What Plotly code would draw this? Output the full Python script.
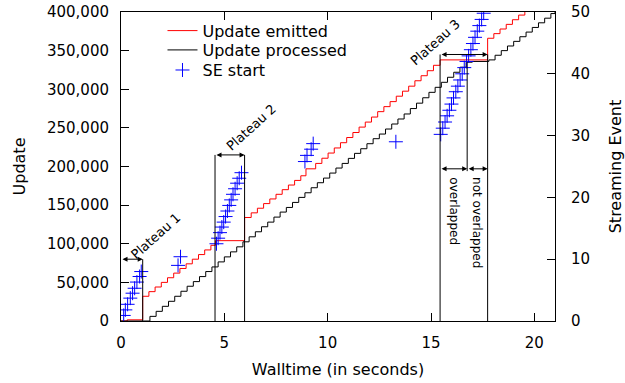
import plotly.graph_objects as go

# ---- data ----
emit_t = [0, 0.3, 1.05, 1.35, 1.65, 1.95, 2.25, 2.55, 2.85, 3.15, 3.45, 3.75, 4.05, 4.35, 4.57,
          5.98, 6.3, 6.6, 6.9, 7.2, 7.5, 7.8, 8.1, 8.4, 8.7, 8.95,
          9.42, 9.72, 10.02, 10.32, 10.62, 10.92, 11.22, 11.52, 11.82, 12.12, 12.42, 12.72,
          13.02, 13.32, 13.62, 13.92, 14.22, 14.52, 14.82, 15.12, 15.44,
          17.74, 18.04, 18.34, 18.64, 18.94, 19.24, 19.54]
emit_v = [0, 1500, 32000, 38000, 44000, 50000, 56000, 62000, 68000, 74000, 80000, 86000, 92000, 98000, 104000,
          134000, 140000, 146000, 152000, 158000, 164000, 170000, 176000, 182000, 188000, 197000,
          204000, 210700, 217400, 224000, 230800, 237500, 244000, 251000, 257500, 264000, 271000, 277500,
          284000, 291000, 297500, 304000, 311000, 317500, 324000, 331000, 338000,
          366000, 372000, 378000, 384000, 390000, 396000, 402000]

proc_t = [0, 1.1, 1.4, 1.7, 2.0, 2.3, 2.6, 2.9, 3.2, 3.5, 3.8, 4.1, 4.4, 4.7, 5.0, 5.3, 5.6, 5.9,
          6.2, 6.5, 6.8, 7.1, 7.4, 7.7, 8.0, 8.3, 8.6, 8.9, 9.2, 9.5, 9.8, 10.1, 10.4, 10.7, 11.0,
          11.3, 11.6, 11.9, 12.2, 12.5, 12.8, 13.1, 13.4, 13.7, 14.0, 14.3, 14.6, 14.9, 15.2, 15.5,
          15.8, 16.1, 16.4, 16.7, 17.0, 17.8, 18.1, 18.4, 18.7, 19.0, 19.3, 19.6, 19.9, 20.2, 20.5, 20.8, 21.0]
proc_v = [0, 0, 6000, 12500, 19000, 25500, 32000, 38500, 45000, 51000, 57500, 64000, 70000, 76500, 83000,
          89500, 96000, 102500, 109000, 115500, 122000, 128000, 134500, 141000, 147000, 153500, 160000,
          166000, 172500, 179000, 185000, 191500, 198000, 204000, 210500, 217000, 223000, 229500, 236000,
          242000, 248500, 255000, 261500, 268000, 275000, 282000, 289000, 296000, 302500, 309000, 315500,
          322000, 328500, 335000, 336000, 338000, 344000, 350000, 356000, 362000, 368000, 374000, 380000,
          386000, 392000, 398000, 400000]

se_t = [0.13, 0.21, 0.32, 0.45, 0.56, 0.66, 0.77, 0.90, 0.98,
        2.76, 2.88,
        4.62, 4.70, 4.79, 4.88, 4.97, 5.06, 5.15, 5.24, 5.33, 5.42, 5.52, 5.62, 5.72, 5.83,
        8.9, 9.0, 9.2, 9.3,
        13.3,
        15.47, 15.57, 15.68, 15.78, 15.89, 15.99, 16.09, 16.20, 16.30, 16.41, 16.51, 16.61,
        16.72, 16.82, 16.93, 17.03, 17.13, 17.24, 17.34, 17.45, 17.55]
se_v = [0.9, 1.8, 2.7, 3.7, 4.5, 5.3, 6.3, 7.2, 8.0,
        9.0, 10.4,
        12.5, 13.4, 14.3, 15.2, 16.0, 16.9, 17.8, 18.7, 19.6, 20.5, 21.4, 22.3, 23.1, 24.0,
        25.8, 26.8, 27.8, 28.7,
        29.0,
        30.2, 31.2, 32.2, 33.2, 34.1, 35.1, 36.1, 37.1, 38.0, 39.0, 40.0, 41.0,
        42.0, 42.9, 43.9, 44.9, 45.9, 46.9, 47.8, 48.8, 49.8]

# plateau annotations: start, end, bracket height, label
plateau_start = [0.0, 4.55, 15.44]
plateau_end = [1.05, 5.98, 17.74]
plateau_top = [80000, 215000, 345000]
plateau_label = ["Plateau 1", "Plateau 2", "Plateau 3"]
plateau_label_pos = [(1.65, 110000), (6.3, 250000), (15.2, 360000)]
overlap_split = 16.75
overlap_row = 197000
overlap_top = 335000

FONT = "DejaVu Sans"

fig = go.Figure()
fig.add_trace(go.Scatter(x=emit_t, y=emit_v, mode="lines", line=dict(color="#ff0000", width=1, shape="hv"),
                         name="Update emitted", legend="legend"))
fig.add_trace(go.Scatter(x=proc_t, y=proc_v, mode="lines", line=dict(color="#000000", width=1, shape="hv"),
                         name="Update processed", legend="legend2"))
fig.add_trace(go.Scatter(x=se_t, y=se_v, mode="markers", yaxis="y2", name="SE start", legend="legend3",
                         marker=dict(symbol="cross-thin", size=10, line=dict(color="#0000ff", width=1),
                                     color="#0000ff")))

shapes = []
annotations = []
for s, e, top in zip(plateau_start, plateau_end, plateau_top):
    for xv in (s, e):
        if xv > 0:
            shapes.append(dict(type="line", xref="x", yref="y", x0=xv, x1=xv, y0=0, y1=top,
                               line=dict(color="black", width=1)))
    annotations.append(dict(x=e, y=top, ax=s, ay=top, xref="x", yref="y", axref="x", ayref="y",
                            text="", showarrow=True, arrowhead=2, arrowside="end+start",
                            arrowsize=1, arrowwidth=1, arrowcolor="black", standoff=0, startstandoff=0))
for lab, (lx, ly) in zip(plateau_label, plateau_label_pos):
    annotations.append(dict(x=lx, y=ly, xref="x", yref="y", text=lab, showarrow=False, textangle=-42,
                            font=dict(family=FONT, size=13, color="black")))

# overlapped / not overlapped
shapes.append(dict(type="line", xref="x", yref="y", x0=overlap_split, x1=overlap_split,
                   y0=overlap_row - 3000, y1=overlap_top, line=dict(color="black", width=1)))
for a, b in ((plateau_start[2], overlap_split), (overlap_split, plateau_end[2])):
    annotations.append(dict(x=b, y=overlap_row, ax=a, ay=overlap_row, xref="x", yref="y", axref="x", ayref="y",
                            text="", showarrow=True, arrowhead=2, arrowside="end+start",
                            arrowsize=1, arrowwidth=1, arrowcolor="black", standoff=0, startstandoff=0))
annotations.append(dict(x=(plateau_start[2] + overlap_split) / 2, y=overlap_row - 8000, xref="x", yref="y",
                        text="overlapped", showarrow=False, textangle=90, yanchor="top",
                        font=dict(family=FONT, size=12, color="black")))
annotations.append(dict(x=(overlap_split + plateau_end[2]) / 2, y=overlap_row - 8000, xref="x", yref="y",
                        text="not overlapped", showarrow=False, textangle=90, yanchor="top",
                        font=dict(family=FONT, size=12, color="black")))

leg_common = dict(x=0.0956, xanchor="left", yanchor="middle", bgcolor="rgba(0,0,0,0)",
                  font=dict(family=FONT, size=16))
TITLE_FONT = dict(family=FONT, size=16, color="black")

fig.update_layout(
    width=625, height=383,
    margin=dict(l=121, r=70, t=12, b=62, autoexpand=False),
    paper_bgcolor="white", plot_bgcolor="white",
    font=dict(family=FONT, size=15, color="black"),
    showlegend=True,
    legend=dict(y=0.9395, **leg_common),
    legend2=dict(y=0.877, **leg_common),
    legend3=dict(y=0.812, **leg_common),
    xaxis=dict(range=[0, 21], dtick=5, tick0=0, ticks="inside", ticklen=8, tickcolor="black",
               showline=True, linecolor="black", linewidth=1, mirror="ticks", showgrid=False, zeroline=False,
               automargin=False,
               title=dict(text="Walltime (in seconds)", standoff=12, font=TITLE_FONT), ticklabelstandoff=8),
    yaxis=dict(range=[0, 400000], dtick=50000, tick0=0, tickformat=",d", ticks="inside", ticklen=8,
               tickcolor="black", showline=True, linecolor="black", linewidth=1, showgrid=False,
               zeroline=False, automargin=False,
               title=dict(text="Update", standoff=17, font=TITLE_FONT), ticklabelstandoff=8),
    yaxis2=dict(range=[0, 50], dtick=10, tick0=0, overlaying="y", side="right", ticks="inside", ticklen=8,
                tickcolor="black", showline=True, linecolor="black", linewidth=1, showgrid=False,
                zeroline=False, automargin=False,
                title=dict(text="Streaming Event", standoff=23, font=TITLE_FONT), ticklabelstandoff=12),
    shapes=shapes, annotations=annotations,
)

fig.write_html("out.html")
